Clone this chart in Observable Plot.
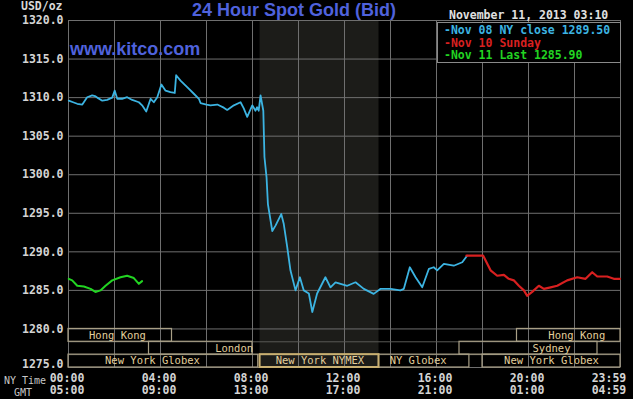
<!DOCTYPE html>
<html><head><meta charset="utf-8">
<script src="https://cdn.jsdelivr.net/npm/d3@7"></script>
<script src="https://cdn.jsdelivr.net/npm/@observablehq/plot@0.6"></script>
<style>
html,body{margin:0;padding:0;background:#000;}
#wrap{position:relative;width:633px;height:399px;overflow:hidden;background:#000;}
.ov{position:absolute;white-space:pre;}
.mono{font-family:"DejaVu Sans Mono",monospace;}
.big{font-family:"Liberation Sans",Arial,sans-serif;font-weight:bold;font-size:18px;line-height:18px;color:#4f62dc;}
#legend{left:437px;top:22px;width:184px;height:41px;box-sizing:border-box;border:1px solid #8a8a8a;background:#000;padding:1px 0 0 6px;font-weight:bold;font-size:11.5px;line-height:12.5px;}
</style></head><body>
<div id="wrap"></div>
<script>
// ---- data (NY time in hours, price in USD/oz) ----
const nov08Hours = [0.01,0.2,0.38,0.60,0.81,1.03,1.15,1.25,1.47,1.68,1.90,2.01,2.12,2.33,2.55,2.77,3.06,3.20,3.38,3.57,3.71,3.86,4.04,4.22,4.43,4.62,4.68,4.87,5.16,5.45,5.67,5.74,6.0,6.17,6.47,6.75,6.90,7.19,7.48,7.62,7.77,7.99,8.13,8.20,8.27,8.35,8.47,8.52,8.61,8.67,8.86,9.00,9.25,9.36,9.51,9.65,9.87,10.06,10.23,10.45,10.60,10.81,11.17,11.39,11.61,11.83,12.12,12.48,12.84,13.27,13.57,14.00,14.43,14.58,14.84,15.09,15.38,15.67,15.88,16.03,16.32,16.75,17.12,17.33];
const nov08Prices = [1309.6,1309.4,1309.2,1309.1,1310.05,1310.3,1310.2,1310.0,1309.6,1309.7,1310.0,1310.9,1309.85,1309.85,1310.05,1309.7,1309.4,1309.0,1308.2,1309.85,1309.4,1310.05,1311.7,1310.9,1310.7,1310.6,1312.9,1312.2,1311.35,1310.5,1309.85,1309.3,1309.1,1309.0,1309.1,1308.7,1308.4,1309.0,1309.4,1308.6,1307.5,1309.0,1308.3,1308.75,1308.3,1310.3,1308.3,1302.3,1299.7,1296.2,1292.7,1293.4,1294.9,1293.6,1290.6,1287.6,1285.0,1286.7,1285.0,1284.6,1282.2,1284.6,1286.7,1285.4,1286.05,1285.85,1285.6,1286.05,1285.2,1284.55,1285.2,1285.2,1285.0,1285.2,1288.0,1286.7,1285.4,1287.8,1288.0,1287.6,1288.45,1288.2,1288.65,1289.5];
const nov10Hours = [17.30,18.03,18.35,18.64,18.93,19.14,19.36,19.58,19.80,19.94,20.16,20.45,20.67,20.96,21.25,21.68,22.12,22.48,22.77,22.99,23.42,23.71,23.98];
const nov10Prices = [1289.5,1289.5,1287.6,1286.9,1287.0,1286.5,1286.3,1285.6,1285.0,1284.3,1284.8,1285.6,1285.2,1285.4,1285.6,1286.3,1286.7,1286.5,1287.35,1286.8,1286.8,1286.5,1286.5];
const nov11Hours = [0.01,0.16,0.38,0.67,0.96,1.17,1.39,1.61,1.90,2.26,2.55,2.84,3.06,3.20];
const nov11Prices = [1286.5,1286.3,1285.6,1285.5,1285.2,1284.8,1285.0,1285.6,1286.3,1286.7,1286.9,1286.6,1285.85,1286.2];

const yTicks = [1275,1280,1285,1290,1295,1300,1305,1310,1315,1320];
const xGrid = [0,2,4,6,8,10,12,14,16,18,20,22,24];
const xTickHours = [0,4,8,12,16,20];
const nyLabels = ["00:00","04:00","08:00","12:00","16:00","20:00"];
const gmtLabels = ["05:00","09:00","13:00","17:00","21:00","01:00"];
const lastTickHour = 23.99, lastNy = "23:59", lastGmt = "04:59";

// sessions: name, start hour, end hour, row (1 top .. 3 bottom), label hour
const sessionNames = ["Hong Kong","London","New York Globex","New York NYMEX","NY Globex","New York Globex","Sydney","Hong Kong"];
const sessionStart = [0,3.5,0,8.33,13.5,18,17,19.5];
const sessionEnd = [4.5,8,8.25,13.5,17.43,24,23,24];
const sessionRow = [1,2,3,3,3,3,2,1];
const sessionLabelAt = [2.13,7.2,3.65,10.93,15.2,21.0,21.0,22.1];
const nymexStart = 8.33, nymexEnd = 13.5;

const title = "24 Hour Spot Gold (Bid)";
const site = "www.kitco.com";
const stamp = "November 11, 2013 03:10";
const legendLabels = ["-Nov 08 NY close 1289.50","-Nov 10 Sunday","-Nov 11 Last 1285.90"];
const colors = ["#3cb4e2","#d82020","#22d422"];

// ---- build ----
const rowY = r => [1280 - (r-1)*5/3, 1280 - r*5/3];
const sessions = sessionNames.map((n,i)=>({name:n,x1:sessionStart[i],x2:sessionEnd[i],y1:rowY(sessionRow[i])[0],y2:rowY(sessionRow[i])[1],lx:sessionLabelAt[i],ly:(rowY(sessionRow[i])[0]+rowY(sessionRow[i])[1])/2,nymex:n==="New York NYMEX"}));
const mk = (h,p,s)=>h.map((x,i)=>({x,y:p[i],s}));
const s08 = mk(nov08Hours,nov08Prices,0), s10 = mk(nov10Hours,nov10Prices,1), s11 = mk(nov11Hours,nov11Prices,2);
const ticks = xTickHours.map((h,i)=>({h,ny:nyLabels[i],gmt:gmtLabels[i]}));
const lastTick = [{h:lastTickHour,ny:lastNy,gmt:lastGmt}];
const fmt = d=>d.toFixed(1);

const chart = Plot.plot({
  width:633, height:399,
  marginLeft:68, marginRight:13, marginTop:20, marginBottom:32,
  x:{domain:[0,24], axis:null},
  y:{domain:[1275,1320], axis:null},
  style:{background:"#000", color:"#d8d8d8", fontFamily:"DejaVu Sans Mono", fontSize:"11.5px", fontWeight:"bold"},
  marks:[
    Plot.rect([{a:nymexStart,b:nymexEnd}],{x1:"a",x2:"b",y1:1275,y2:1320,fill:"#1c1c19"}),
    Plot.ruleY(yTicks,{stroke:"#6f6f6f",strokeWidth:1}),
    Plot.ruleX(xGrid,{stroke:"#6f6f6f",strokeWidth:1}),
    Plot.ruleY([rowY(1)[1],rowY(2)[1]],{stroke:"#5a5a55",strokeWidth:1}),
    Plot.rect(sessions.filter(d=>!d.nymex),{x1:"x1",x2:"x2",y1:"y1",y2:"y2",fill:"none",stroke:"#a89f86",strokeWidth:1.2}),
    Plot.rect(sessions.filter(d=>d.nymex),{x1:"x1",x2:"x2",y1:"y1",y2:"y2",fill:"none",stroke:"#c9b072",strokeWidth:2}),
    Plot.text(sessions,{x:"lx",y:"ly",text:"name",fill:"#e2cf9c",fontSize:10.5,fontWeight:"normal"}),
    Plot.line(s11,{x:"x",y:"y",stroke:colors[2],strokeWidth:2}),
    Plot.line(s08,{x:"x",y:"y",stroke:colors[0],strokeWidth:1.8}),
    Plot.line(s10,{x:"x",y:"y",stroke:colors[1],strokeWidth:2.2}),
    Plot.axisY(yTicks.slice(1),{tickSize:0,tickPadding:5,tickFormat:fmt,fill:"#d4d4d4"}),
    Plot.axisY(yTicks.slice(0,1),{tickSize:0,tickPadding:5,dy:-3,tickFormat:fmt,fill:"#d4d4d4"}),
    Plot.text(ticks,{x:"h",text:"ny",frameAnchor:"bottom",dy:14,dx:-1.5,fill:"#d4d4d4"}),
    Plot.text(ticks,{x:"h",text:"gmt",frameAnchor:"bottom",dy:26.5,dx:-1.5,fill:"#d4d4d4"}),
    Plot.text(lastTick,{x:"h",text:"ny",frameAnchor:"bottom",dy:14,dx:6,textAnchor:"end",fill:"#d4d4d4"}),
    Plot.text(lastTick,{x:"h",text:"gmt",frameAnchor:"bottom",dy:26.5,dx:6,textAnchor:"end",fill:"#d4d4d4"})
  ]
});
const wrap = document.getElementById("wrap");
wrap.appendChild(chart);
chart.style.position="absolute"; chart.style.left="0"; chart.style.top="0";

function ov(text, cls, css){const d=document.createElement("div");d.className="ov "+cls;d.textContent=text;Object.assign(d.style,css);wrap.appendChild(d);return d;}
ov(title,"big",{left:"192px",top:"1px"});
ov(site,"big",{left:"70px",top:"40px"});
ov("USD/oz","mono",{left:"21px",top:"0px",fontSize:"11.5px",lineHeight:"12px",fontWeight:"bold",color:"#d8d8d8"});
ov(stamp,"mono",{left:"449px",top:"9px",fontSize:"11.5px",lineHeight:"12px",fontWeight:"bold",color:"#e0e0e0"});
ov("NY Time","mono",{left:"4px",top:"375px",fontSize:"10px",lineHeight:"12px",color:"#c8c8c8"});
ov("GMT","mono",{left:"14px",top:"387px",fontSize:"10px",lineHeight:"12px",color:"#c8c8c8"});
const leg = document.createElement("div"); leg.id="legend"; leg.className="ov mono"; wrap.appendChild(leg);
legendLabels.forEach((t,i)=>{const r=document.createElement("div");r.textContent=t;r.style.color=colors[i];leg.appendChild(r);});
</script>
</body></html>
